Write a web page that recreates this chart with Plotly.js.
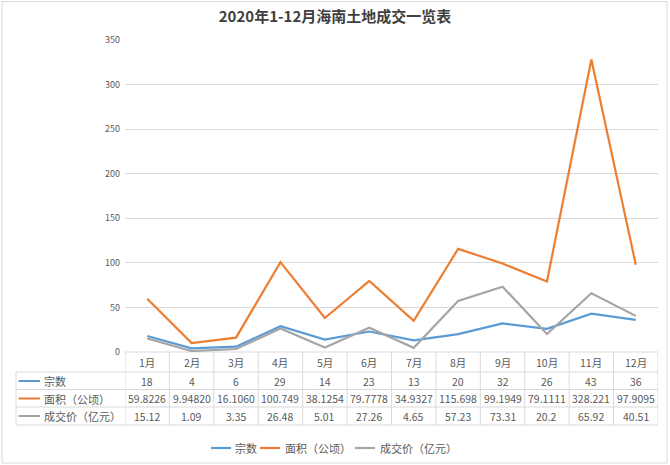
<!DOCTYPE html>
<html>
<head>
<meta charset="utf-8">
<script src="https://cdn.plot.ly/plotly-3.0.1.min.js"></script>
<style>html,body{margin:0;padding:0;background:#fff;}#chart{width:670px;height:465px;}</style>
</head>
<body>
<div id="chart"></div>
<script>
var months = ["1月","2月","3月","4月","5月","6月","7月","8月","9月","10月","11月","12月"];
var seriesNames = ["宗数","面积（公顷）","成交价（亿元）"];
var counts = [18,4,6,29,14,23,13,20,32,26,43,36];
var area = [59.8226,9.94820,16.1060,100.749,38.1254,79.7778,34.9327,115.698,99.1949,79.1111,328.221,97.9095];
var price = [15.12,1.09,3.35,26.48,5.01,27.26,4.65,57.23,73.31,20.2,65.92,40.51];
var yTicks = [0,50,100,150,200,250,300,350];
var titleText = "2020年1-12月海南土地成交一览表";

var colors = ["#5B9BD5","#ED7D31","#A5A5A5"];
var W = 670, H = 465;
function px(x){return x/W;}
function py(y){return 1-y/H;}
var FONT = "Noto Sans CJK SC, sans-serif";
var TXT = "#595959";
var GRID = "#D9D9D9";

var allSeries = [counts, area, price];
var labelSeries = [
  counts.map(String),
  area.map(function(v){return v.toPrecision(6);}),
  price.map(String)
];

var traces = allSeries.map(function(s,i){
  return {x: months, y: s, type:"scatter", mode:"lines", name: seriesNames[i],
    line:{color:colors[i], width:2.2}, hoverinfo:"skip", showlegend:false};
});

var shapes = [], ann = [];
// outer border
shapes.push({type:"rect", xref:"paper", yref:"paper", x0:px(2), x1:px(667), y0:py(1.5), y1:py(463), line:{color:GRID,width:1}});
// table rows boundaries
var rowB = [352,372,389.5,407,425];
var rowC = [362,381,398.5,416];
// top line of header (axis line)
shapes.push({type:"line", xref:"paper", yref:"paper", x0:px(125), x1:px(658), y0:py(352), y1:py(352), line:{color:GRID,width:1}, layer:"below"});
// horizontal lines of table
for (var r=1;r<rowB.length;r++){
  shapes.push({type:"line", xref:"paper", yref:"paper", x0:px(16), x1:px(658), y0:py(rowB[r]), y1:py(rowB[r]), line:{color:GRID,width:1}});
}
// vertical lines
for (var c=0;c<=months.length;c++){
  shapes.push({type:"line", xref:"x", yref:"paper", x0:c-0.5, x1:c-0.5, y0:py(352), y1:py(425), line:{color:GRID,width:1}});
}
shapes.push({type:"line", xref:"paper", yref:"paper", x0:px(16), x1:px(16), y0:py(372), y1:py(425), line:{color:GRID,width:1}});

// header month labels
months.forEach(function(m,i){
  ann.push({x:i, xref:"x", y:py(rowC[0]), yref:"paper", text:m, showarrow:false, font:{family:FONT,size:10.5,color:TXT}, xanchor:"center", yanchor:"middle"});
});
// row labels and values
seriesNames.forEach(function(n,k){
  var yc = rowC[k+1];
  shapes.push({type:"line", xref:"paper", yref:"paper", x0:px(18.5), x1:px(40), y0:py(yc), y1:py(yc), line:{color:colors[k],width:2}});
  ann.push({x:px(41.5), xref:"paper", y:py(yc), yref:"paper", text:n, showarrow:false, font:{family:FONT,size:11,color:TXT}, xanchor:"left", yanchor:"middle"});
  labelSeries[k].forEach(function(t,i){
    ann.push({x:i, xref:"x", y:py(yc), yref:"paper", text:t, showarrow:false, font:{family:FONT,size:10.5,color:TXT}, xanchor:"center", yanchor:"middle"});
  });
});
// legend (bottom)
var legX = [[211,231,233],[260,280,283],[355,375,378]];
seriesNames.forEach(function(n,k){
  var L = legX[k];
  shapes.push({type:"line", xref:"paper", yref:"paper", x0:px(L[0]), x1:px(L[1]), y0:py(448), y1:py(448), line:{color:colors[k],width:2.2}});
  ann.push({x:px(L[2]), xref:"paper", y:py(448), yref:"paper", text:n, showarrow:false, font:{family:FONT,size:11,color:TXT}, xanchor:"left", yanchor:"middle"});
});

var layout = {
  width:W, height:H,
  margin:{l:0,r:0,t:0,b:0},
  paper_bgcolor:"#fff", plot_bgcolor:"#fff",
  title:{text:titleText, font:{family:FONT,size:15,color:"#404040",weight:"bold"}, x:0.5, xanchor:"center", xref:"paper", y:py(17), yref:"paper", yanchor:"middle"},
  xaxis:{domain:[px(125),px(658)], range:[-0.5,11.5], type:"category", showticklabels:false, showgrid:false, zeroline:false, showline:false, ticks:"", fixedrange:true},
  yaxis:{domain:[py(352),py(40)], range:[0,350], tickvals:yTicks, ticktext:yTicks.map(String), showgrid:true, gridcolor:GRID, gridwidth:1, zeroline:false, showline:false, ticks:"", ticklabelstandoff:4, tickfont:{family:FONT,size:9,color:TXT}, fixedrange:true},
  shapes:shapes, annotations:ann, showlegend:false
};
Plotly.newPlot("chart", traces, layout, {displayModeBar:false, staticPlot:true});
</script>
</body>
</html>
